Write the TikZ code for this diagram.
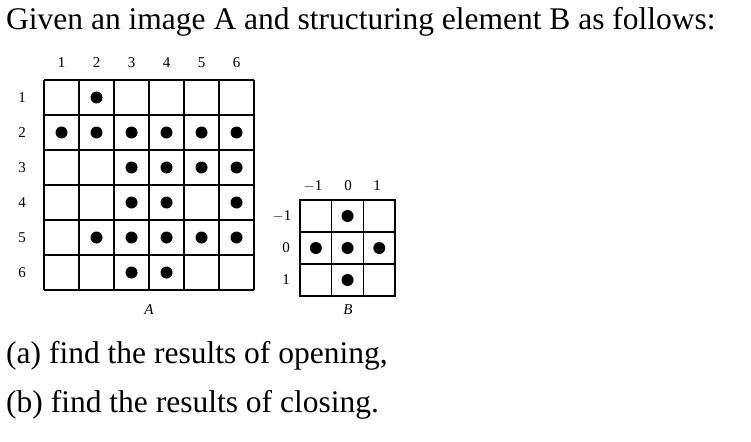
\documentclass[tikz,border=0pt]{standalone}
\usepackage{fontspec}
\setmainfont{Liberation Serif}
\begin{document}
\begin{tikzpicture}[x=1pt,y=-1pt,
  big/.style={font=\fontsize{31.5}{34}\selectfont, anchor=west, inner sep=0},
  lab/.style={font=\fontsize{15}{17}\selectfont, inner sep=0},
  dot/.style={fill=black, circle, inner sep=0, minimum size=12pt},
  gl/.style={line width=1.2pt}]
\useasboundingbox (0,0) rectangle (751,441);
\node[big] (t) at (6,22) {Given an image A and structuring element B as follows:};
\node[big] (a) at (6,356) {(a) find the results of opening,};
\node[big] (b) at (6,405) {(b) find the results of closing.};
% grid A
\foreach \k in {0,...,6}{
  \draw[gl] ({44+\k*35},80) -- ({44+\k*35},290);
  \draw[gl] (44,{80+\k*35}) -- (254,{80+\k*35});
}
\foreach \i in {1,...,6}{
  \node[lab] (c\i) at ({44+(\i-0.5)*35},63) {\i};
  \node[lab] (r\i) at (22,{80+(\i-0.5)*35}) {\i};
}
\foreach \r/\c in {1/2, 2/1,2/2,2/3,2/4,2/5,2/6, 3/3,3/4,3/5,3/6, 4/3,4/4,4/6, 5/2,5/3,5/4,5/5,5/6, 6/3,6/4}
  \node[dot] (d\r\c) at ({44+(\c-0.5)*35},{80+(\r-0.5)*35}) {};
\node[lab, font=\fontsize{15}{17}\selectfont\itshape] (la) at (149,310) {A};
% grid B
\draw[gl] (300,200) rectangle (395,296);
\foreach \k in {1,2}{
  \draw[gl] ({300+\k*31.7},200) -- ({300+\k*31.7},296);
  \draw[gl] (300,{200+\k*32}) -- (395,{200+\k*32});
}
\node[lab] (bc1) at (313,186) {$-$1};
\node[lab] (bc2) at (348,186) {0};
\node[lab] (bc3) at (377,186) {1};
\node[lab] (br1) at (282,216) {$-$1};
\node[lab] (br2) at (286,248) {0};
\node[lab] (br3) at (286,280) {1};
\foreach \r/\c in {1/2, 2/1,2/2,2/3, 3/2}
  \node[dot] (e\r\c) at ({300+(\c-0.5)*31.7},{200+(\r-0.5)*32}) {};
\node[lab, font=\fontsize{15}{17}\selectfont\itshape] (lb) at (348,310) {B};
\end{tikzpicture}
\end{document}
